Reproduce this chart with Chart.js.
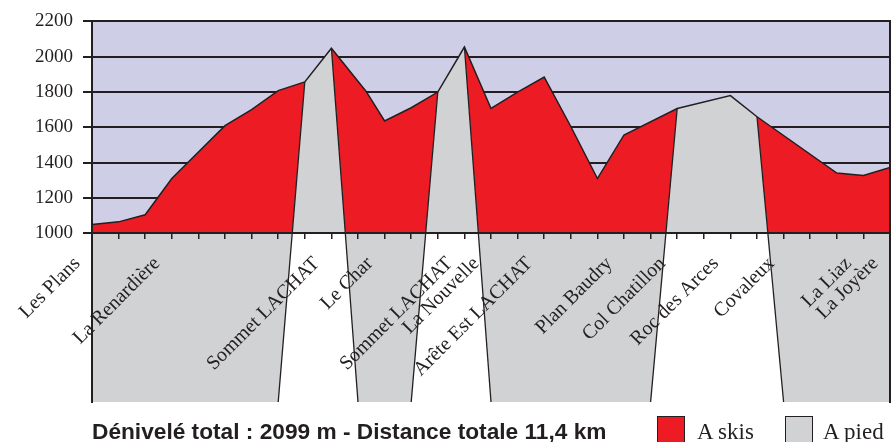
<!DOCTYPE html>
<html lang="fr">
<head>
<meta charset="utf-8">
<title>Profil du parcours</title>
<script src="https://cdn.jsdelivr.net/npm/chart.js@4.4.0/dist/chart.umd.min.js"></script>
<style>
  body { margin: 0; background: #fff; }
  #wrap { position: relative; width: 892px; height: 442px; overflow: hidden; }
  #caption { position: absolute; left: 92px; top: 420px; font: bold 22.7px "Liberation Sans", Arial, sans-serif; line-height: 22.7px; color: #231f20; white-space: nowrap; }
  .key { position: absolute; top: 420px; font: 23px "Liberation Serif", "Times New Roman", serif; line-height: 23px; color: #231f20; white-space: nowrap; }
  .swatch { position: absolute; top: 416px; width: 28px; height: 30px; border: 1px solid #231f20; box-sizing: border-box; }
</style>
</head>
<body>
<div id="wrap">
  <canvas id="profile" width="892" height="442"></canvas>
  <div id="caption">Dénivelé total : 2099 m - Distance totale 11,4 km</div>
  <div class="swatch" style="left:657px;background:#ed1c24"></div>
  <div class="key" style="left:697px">A skis</div>
  <div class="swatch" style="left:785px;background:#d1d2d4"></div>
  <div class="key" style="left:823px">A pied</div>
</div>
<script>
// Profile: position along the route (in axis steps, 30 steps) and altitude in m
const distance = [0, 1, 2, 3, 5, 6, 7, 8, 9, 10.3, 11, 12, 13, 14, 15, 16, 17, 18, 19, 20, 22, 24, 25, 28, 29, 30];
const altitude = [1050, 1065, 1105, 1310, 1610, 1700, 1808, 1857, 2048, 1805, 1636, 1711, 1800, 2055, 1707, 1800, 1885, 1605, 1310, 1557, 1707, 1780, 1660, 1341, 1328, 1373];

// Sections walked on foot (start / end position)
const footFrom = [8, 13, 22];
const footTo = [9, 14, 25];

// Place names and where they sit on the route
const places = ['Les Plans', 'La Renardière', 'Sommet LACHAT', 'Le Char', 'Sommet LACHAT', 'La Nouvelle',
  'Arête Est LACHAT', 'Plan Baudry', 'Col Chatillon', 'Roc des Arces', 'Covaleux', 'La Liaz', 'La Joyère'];
const placeAt = [0, 3, 9, 11, 14, 15, 17, 20, 22, 24, 26.1, 29, 30];

const yTicks = [1000, 1200, 1400, 1600, 1800, 2000, 2200];
const xSteps = Array.from({ length: 31 }, (_, i) => i);

const BASE = 1000;   // altitude of the axis line
const FLOOR = 45;    // bottom of the frame
const XMAX = 30;

const RED = '#ed1c24';
const GREY = '#d1d2d4';
const LILAC = '#cecee6';
const INK = '#231f20';

const altAt = u => altitude[distance.indexOf(u)];
const stretch = (a, b) => distance
  .map((u, i) => ({ x: u, y: altitude[i] }))
  .filter(p => p.x >= a && p.x <= b);

// the slanted edges run from a profile point down to FLOOR, one step aside;
// this gives where such an edge crosses the axis line
const crossBase = (u, dir) => {
  const h = altAt(u);
  return u + dir * (h - BASE) / (h - FLOOR);
};

const polygon = (points, color, order) => ({
  data: points,
  fill: 'shape',
  backgroundColor: color,
  borderColor: 'rgba(0,0,0,0)',
  borderWidth: 0,
  pointRadius: 0,
  order: order
});

const edge = (points) => ({
  data: points,
  fill: false,
  borderColor: INK,
  borderWidth: 1.3,
  pointRadius: 0,
  order: 1
});

const datasets = [];

// profile outline
datasets.push({
  label: 'profil',
  data: distance.map((u, i) => ({ x: u, y: altitude[i] })),
  fill: false,
  borderColor: INK,
  borderWidth: 1.5,
  pointRadius: 0,
  order: 0
});

// ski sections (red above the axis, grey band below)
const starts = [0, ...footTo];
const ends = [...footFrom, XMAX];
starts.forEach((a, i) => {
  const b = ends[i];
  const first = i === 0;
  const last = i === starts.length - 1;
  const baseA = first ? 0 : crossBase(a, 1);
  const baseB = last ? XMAX : crossBase(b, -1);
  datasets.push(polygon([{ x: baseA, y: BASE }, ...stretch(a, b), { x: baseB, y: BASE }], RED, 3));
  datasets.push(polygon([
    { x: baseA, y: BASE }, { x: baseB, y: BASE },
    { x: last ? XMAX : b - 1, y: FLOOR }, { x: first ? 0 : a + 1, y: FLOOR }
  ], GREY, 4));
});

// foot sections
footFrom.forEach((a, i) => {
  const b = footTo[i];
  datasets.push(polygon([{ x: crossBase(a, -1), y: BASE }, ...stretch(a, b), { x: crossBase(b, 1), y: BASE }], GREY, 2));
  datasets.push(edge([{ x: a, y: altAt(a) }, { x: a - 1, y: FLOOR }]));
  datasets.push(edge([{ x: b, y: altAt(b) }, { x: b + 1, y: FLOOR }]));
});

// lilac band behind the profile
const backdrop = {
  id: 'backdrop',
  beforeDraw(chart) {
    const { ctx, scales: { x, y } } = chart;
    const top = y.getPixelForValue(yTicks[yTicks.length - 1]);
    const bottom = y.getPixelForValue(BASE);
    ctx.save();
    ctx.fillStyle = LILAC;
    ctx.fillRect(x.left, top, x.right - x.left, bottom - top);
    ctx.restore();
  }
};

// slanted place names under the axis
const placeNames = {
  id: 'placeNames',
  afterDatasetsDraw(chart) {
    const { ctx, scales: { x, y } } = chart;
    const y0 = y.getPixelForValue(BASE);
    ctx.save();
    ctx.font = '20px "Liberation Serif", "Times New Roman", serif';
    ctx.fillStyle = INK;
    ctx.textAlign = 'right';
    ctx.textBaseline = 'alphabetic';
    places.forEach((name, i) => {
      ctx.save();
      ctx.translate(x.getPixelForValue(placeAt[i]) - 11, y0 + 31);
      ctx.rotate(-Math.PI / 4);
      ctx.fillText(name, 0, 0);
      ctx.restore();
    });
    ctx.restore();
  }
};

new Chart(document.getElementById('profile'), {
  type: 'line',
  data: { datasets },
  plugins: [backdrop, placeNames],
  options: {
    responsive: false,
    animation: false,
    devicePixelRatio: 1,
    layout: { padding: { top: 18, right: 2, bottom: 40, left: 0 } },
    plugins: { legend: { display: false }, tooltip: { enabled: false } },
    scales: {
      x: {
        type: 'linear',
        min: 0,
        max: XMAX,
        position: { y: BASE },
        afterBuildTicks: s => { s.ticks = xSteps.map(v => ({ value: v })); },
        ticks: { display: false },
        grid: { drawOnChartArea: false, tickLength: 5, color: INK, lineWidth: 1.5, z: 1 },
        border: { color: INK, width: 2, z: 1 }
      },
      y: {
        type: 'linear',
        min: FLOOR,
        max: 2200,
        afterBuildTicks: s => { s.ticks = yTicks.map(v => ({ value: v })); },
        afterFit: s => { s.width = 92; },
        grid: { color: INK, lineWidth: 2, tickLength: 9 },
        border: { color: INK, width: 2, z: 1 },
        ticks: {
          color: INK,
          padding: 10,
          font: { family: '"Liberation Serif", "Times New Roman", serif', size: 19 },
          callback: v => String(v)
        }
      },
      right: {
        type: 'linear',
        position: 'right',
        ticks: { display: false },
        grid: { drawOnChartArea: false, drawTicks: false },
        border: { color: INK, width: 2, z: 1 }
      }
    }
  }
});
</script>
</body>
</html>
